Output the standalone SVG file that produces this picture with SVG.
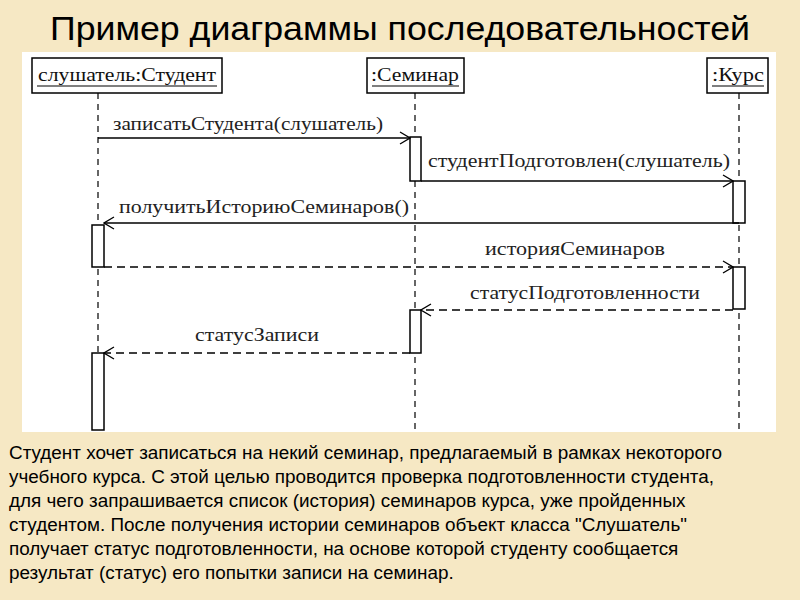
<svg xmlns="http://www.w3.org/2000/svg" width="800" height="600" viewBox="0 0 800 600">
<style>
.hd{fill:#fff;stroke:#000;stroke-width:1.5}
.ht{font-family:"Liberation Serif",serif;font-size:19px;fill:#111}
.ul{stroke:#000;stroke-width:1.2}
.ll{stroke:#000;stroke-width:1.2;stroke-dasharray:6,5;fill:none}
.act{fill:#fff;stroke:#000;stroke-width:1.5}
.m{stroke:#000;stroke-width:1.5;fill:none;marker-end:url(#oa)}
.r{stroke-dasharray:8,5}
.lb{font-family:"Liberation Serif",serif;font-size:18px;fill:#222;text-anchor:middle}
.body{font-family:"Liberation Sans",Arial,sans-serif;font-size:18.9px;fill:#000}
</style>
<defs>
<marker id="oa" viewBox="0 0 12 14" refX="11" refY="7" markerWidth="12" markerHeight="14" markerUnits="userSpaceOnUse" orient="auto">
<path d="M1,1 L11,7 L1,13" fill="none" stroke="#000" stroke-width="1.3"/>
</marker>
</defs>
<rect width="800" height="600" fill="#f6e8c4"/>
<text x="400" y="40" text-anchor="middle" font-family="Liberation Sans,Arial,sans-serif" font-size="33" fill="#000" textLength="700" lengthAdjust="spacingAndGlyphs">Пример диаграммы последовательностей</text>
<rect x="22" y="52" width="754" height="380" fill="#fff"/>
<g id="lifelines">
<line class="ll" x1="98" y1="93" x2="98" y2="430"/>
<line class="ll" x1="415" y1="93" x2="415" y2="430"/>
<line class="ll" x1="739" y1="93" x2="739" y2="430"/>
</g>
<g id="student">
<rect class="hd" x="32" y="58" width="190" height="35"/>
<text class="ht" x="127" y="81" text-anchor="middle" textLength="178" lengthAdjust="spacingAndGlyphs">слушатель:Студент</text>
<line class="ul" x1="37" y1="86" x2="217" y2="86"/>
</g>
<g id="seminar">
<rect class="hd" x="367" y="58" width="97" height="35"/>
<text class="ht" x="415" y="81" text-anchor="middle" textLength="88" lengthAdjust="spacingAndGlyphs">:Семинар</text>
<line class="ul" x1="372" y1="86" x2="459" y2="86"/>
</g>
<g id="course">
<rect class="hd" x="707" y="58" width="61" height="35"/>
<text class="ht" x="738" y="81" text-anchor="middle" textLength="52" lengthAdjust="spacingAndGlyphs">:Курс</text>
<line class="ul" x1="712" y1="86" x2="764" y2="86"/>
</g>
<g id="activations">
<rect class="act" x="410" y="137" width="11" height="44"/>
<rect class="act" x="733" y="181" width="12" height="42"/>
<rect class="act" x="92" y="225" width="12" height="42"/>
<rect class="act" x="733" y="267" width="12" height="42"/>
<rect class="act" x="410" y="310" width="11" height="43"/>
<rect class="act" x="92" y="353" width="12" height="77"/>
</g>
<g id="connectors">
<line class="m" x1="98" y1="138" x2="410" y2="138"/>
<line class="m" x1="421" y1="181" x2="733" y2="181"/>
<line class="m" x1="739" y1="223" x2="104" y2="223"/>
<line class="m r" x1="104" y1="267" x2="733" y2="267"/>
<line class="m r" x1="733" y1="310" x2="421" y2="310"/>
<line class="m r" x1="410" y1="353" x2="104" y2="353"/>
<text class="lb" x="248" y="130" textLength="270" lengthAdjust="spacingAndGlyphs">записатьСтудента(слушатель)</text>
<text class="lb" x="579" y="167" textLength="302" lengthAdjust="spacingAndGlyphs">студентПодготовлен(слушатель)</text>
<text class="lb" x="264" y="213" textLength="290" lengthAdjust="spacingAndGlyphs">получитьИсториюСеминаров()</text>
<text class="lb" x="575" y="255" textLength="180" lengthAdjust="spacingAndGlyphs">историяСеминаров</text>
<text class="lb" x="585" y="299" textLength="230" lengthAdjust="spacingAndGlyphs">статусПодготовленности</text>
<text class="lb" x="257" y="341" textLength="124" lengthAdjust="spacingAndGlyphs">статусЗаписи</text>
</g>
<g class="body">
<text x="9" y="459">Студент хочет записаться на некий семинар, предлагаемый в рамках некоторого</text>
<text x="9" y="483">учебного курса. С этой целью проводится проверка подготовленности студента,</text>
<text x="9" y="507">для чего запрашивается список (история) семинаров курса, уже пройденных</text>
<text x="9" y="531">студентом. После получения истории семинаров объект класса "Слушатель"</text>
<text x="9" y="555">получает статус подготовленности, на основе которой студенту сообщается</text>
<text x="9" y="579">результат (статус) его попытки записи на семинар.</text>
</g>
</svg>
